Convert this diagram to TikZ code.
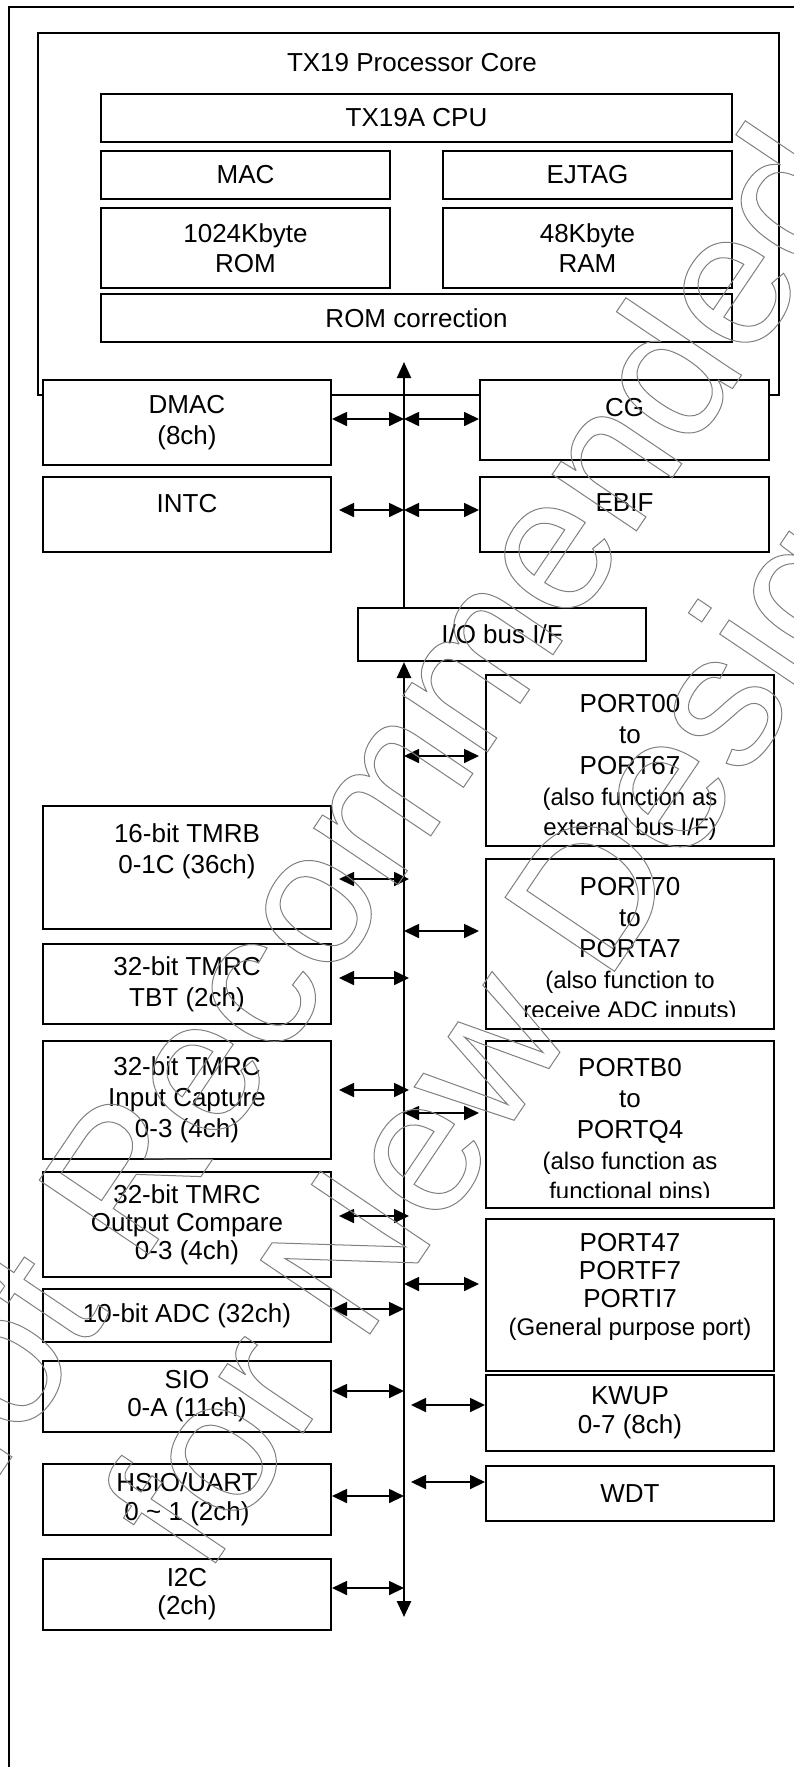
\documentclass[tikz,border=0pt]{standalone}
\usepackage{fontspec}
\setmainfont{Liberation Sans}
\usetikzlibrary{arrows.meta}

% stroke-only text for the watermark
\newcommand{\outlineon}{\special{pdf:literal direct 1 Tr 1 w}}
\newcommand{\outlineoff}{\special{pdf:literal direct 0 Tr}}
\newcommand{\notefont}{\fontsize{24}{30}\selectfont}

\begin{document}
\begin{tikzpicture}[
    x=1pt, y=-1pt,
    every node/.style={font=\fontsize{26}{31}\selectfont},
    box/.style={draw, fill=white, line width=2pt, inner sep=0pt,
                align=center, anchor=north west},
    arr/.style={line width=1.7pt,
                arrows={Triangle[length=15pt,width=14pt]-Triangle[length=15pt,width=14pt]}},
    bus/.style={line width=2pt},
    wmark/.style={rotate=56, anchor=base west, inner sep=0pt, text=black!50,
                  font=\fontsize{192}{192}\selectfont}
  ]
  \useasboundingbox (0,0) rectangle (794,1767);
  % outer frame, cut by the page on the right and at the bottom
  \draw[line width=2pt] (9,7) rectangle (830,1800);

  % processor core
  \node[box, minimum width=741pt, minimum height=362pt] (core) at (37,32) {};
  \node (coretitle) at (412,63) {TX19 Processor Core};
  \node[box, minimum width=631pt, minimum height=48pt] (cpu) at (100,93) {TX19A CPU};
  \node[box, minimum width=289pt, minimum height=48pt] (mac) at (100,150) {MAC};
  \node[box, minimum width=289pt, minimum height=48pt] (ejtag) at (442,150) {EJTAG};
  \node[box, minimum width=289pt, minimum height=80pt] (rom) at (100,207) {1024Kbyte\\[-1pt]ROM};
  \node[box, minimum width=289pt, minimum height=80pt] (ram) at (442,207) {48Kbyte\\[-1pt]RAM};
  \node[box, minimum width=631pt, minimum height=48pt] (romcor) at (100,293) {ROM correction};

  % blocks next to the core
  \node[box, minimum width=288pt, minimum height=85pt] (dmac) at (42,379) {DMAC\\(8ch)};
  \node[box, minimum width=289pt, minimum height=80pt] (cg) at (479,379) {CG\\[-5pt]\mbox{}};
  \node[box, minimum width=288pt, minimum height=75pt] (intc) at (42,476) {INTC\\[-8pt]\mbox{}};
  \node[box, minimum width=289pt, minimum height=75pt] (ebif) at (479,476) {EBIF\\[-8pt]\mbox{}};
  \node[box, minimum width=288pt, minimum height=53pt] (iobus) at (357,607) {I/O bus I/F};

  % peripherals, left column
  \node[box, minimum width=288pt, minimum height=123pt] (tmrb) at (42,805)
    {16-bit TMRB\\0-1C (36ch)\\[6pt]\mbox{}};
  \node[box, minimum width=288pt, minimum height=80pt] (tbt) at (42,943)
    {32-bit TMRC\\TBT (2ch)};
  \node[box, minimum width=288pt, minimum height=118pt] (ic) at (42,1040)
    {32-bit TMRC\\Input Capture\\0-3 (4ch)};
  \node[box, minimum width=288pt, minimum height=105pt] (oc) at (42,1171)
    {32-bit TMRC\\[-3pt]Output Compare\\[-3pt]0-3 (4ch)};
  \node[box, minimum width=288pt, minimum height=53pt] (adc) at (42,1288) {10-bit ADC (32ch)};
  \node[box, minimum width=288pt, minimum height=71pt] (sio) at (42,1360) {SIO\\[-3pt]0-A (11ch)};
  \node[box, minimum width=288pt, minimum height=71pt] (hsio) at (42,1463)
    {HSIO/UART\\[-2pt]0 \textasciitilde{} 1 (2ch)};
  \node[box, minimum width=288pt, minimum height=71pt] (i2c) at (42,1558) {I2C\\[-3pt](2ch)};

  % peripherals, right column
  \node[box, minimum width=288pt, minimum height=171pt] (port00) at (485,674)
    {\mbox{}\\PORT00\\to\\PORT67\\{\notefont (also function as}\\[-1pt]{\notefont external bus I/F)}};
  \node[box, minimum width=288pt, minimum height=170pt] (port70) at (485,858)
    {\mbox{}\\PORT70\\to\\PORTA7\\{\notefont (also function to}\\[-1pt]{\notefont receive ADC inputs)}};
  \node[box, minimum width=288pt, minimum height=167pt] (portb0) at (485,1040)
    {\mbox{}\\PORTB0\\to\\PORTQ4\\{\notefont (also function as}\\[-1pt]{\notefont functional pins)}};
  \node[box, minimum width=288pt, minimum height=152pt] (port47) at (485,1218)
    {PORT47\\[-3pt]PORTF7\\[-3pt]PORTI7\\[-3pt]{\notefont (General purpose port)}\\[-9pt]\mbox{}};
  \node[box, minimum width=288pt, minimum height=76pt] (kwup) at (485,1374) {KWUP\\[-2pt]0-7 (8ch)};
  \node[box, minimum width=288pt, minimum height=55pt] (wdt) at (485,1465) {WDT};

  % last text lines are cut off at the bottom of these two boxes
  \fill[white] ([xshift=2pt,yshift=2pt]port70.south west) rectangle ([xshift=-2pt,yshift=13pt]port70.south east);
  \fill[white] ([xshift=2pt,yshift=2pt]portb0.south west) rectangle ([xshift=-2pt,yshift=11pt]portb0.south east);

  % internal bus
  \coordinate (bustop) at (404,362);
  \coordinate (busbot) at (404,1617);
  \draw[bus, arrows={-Triangle[length=16pt,width=14pt]}] (iobus.north -| bustop) -- (bustop);
  \draw[bus, line width=2.6pt, arrows={Triangle[length=16pt,width=14pt]-Triangle[length=16pt,width=14pt]}]
    (iobus.south -| bustop) -- (busbot);

  \foreach \n/\y in {dmac/419, cg/419, intc/510, ebif/510, port00/756, tmrb/879,
                     port70/931, tbt/978, ic/1090, portb0/1113, oc/1216, port47/1284,
                     adc/1309, sio/1391, kwup/1405, wdt/1482, hsio/1496, i2c/1588}
    \coordinate (b\n) at (404,\y);

  \foreach \n in {dmac, adc, sio, hsio, i2c}
    \draw[arr] (\n.east |- b\n) -- (b\n);
  \draw[arr, shorten <=7pt] (intc.east |- bintc) -- (bintc);
  \foreach \n in {tmrb, tbt, ic, oc}
    \draw[arr, shorten <=7pt, shorten >=-5pt] (\n.east |- b\n) -- (b\n);
  \foreach \n in {cg, ebif}
    \draw[arr] (b\n) -- (b\n -| \n.west);
  \foreach \n in {port00, port70, portb0, port47}
    \draw[arr, shorten >=6pt] (b\n) -- (b\n -| \n.west);
  \foreach \n in {kwup, wdt}
    \draw[arr, shorten <=7pt] (b\n) -- (b\n -| \n.west);

  % watermark
  \node[wmark] (wmline1) at (-57,1559) {\outlineon Not Recommended\outlineoff};
  \node[wmark] (wmline2) at (206,1577) {\outlineon for New Design\outlineoff};
\end{tikzpicture}
\end{document}
